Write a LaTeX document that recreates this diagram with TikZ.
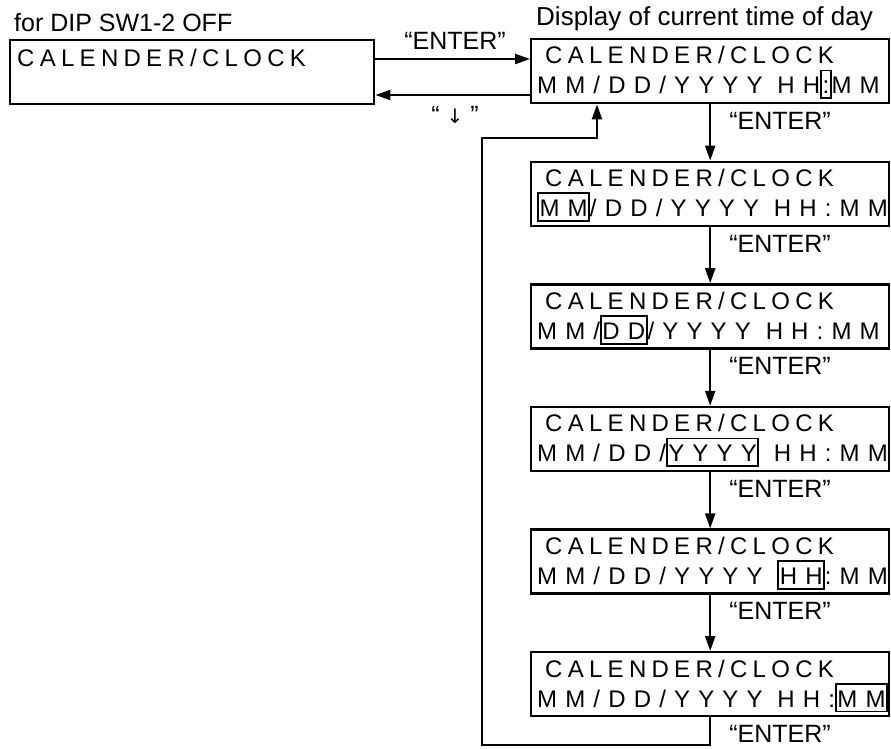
\documentclass[tikz,border=0pt]{standalone}
\usepackage{fontspec}
\setmainfont{Liberation Sans}
\newfontfamily\lcd[LetterSpace=22]{Liberation Sans}
\newfontfamily\lcdb[LetterSpace=34]{Liberation Sans}
\newfontfamily\dv{DejaVu Sans}
\usetikzlibrary{calc,arrows.meta}
\newcommand\hl[1]{{\setlength\fboxsep{0.5pt}\setlength\fboxrule{1.8pt}\fbox{\rule[-3pt]{0pt}{25pt}#1}}}
\begin{document}
\begin{tikzpicture}[x=1pt,y=-1pt,
  disp/.style={draw, line width=2.4pt, minimum width=358pt, minimum height=64pt, anchor=north west, inner sep=0pt},
  lcdtxt/.style={anchor=base west, inner sep=0pt, font=\lcd\fontsize{24}{24}\selectfont},
  lcdtxtb/.style={anchor=base west, inner sep=0pt, font=\lcdb\fontsize{24}{24}\selectfont},
  lbl/.style={inner sep=0pt, font=\fontsize{25}{25}\selectfont},
  conn/.style={line width=2.2pt},
  arr/.style={conn, -{Triangle[length=15pt,width=10pt]}}]
\useasboundingbox (0,0) rectangle (891,749);

% header labels
\node[lbl, anchor=base west] (title) at (14,32) {for DIP SW1-2 OFF};
\node[lbl, anchor=base west, font=\fontsize{26}{26}\selectfont] (dtitle) at (536,26) {Display of current time of day};

% left display
\node[disp, minimum width=364pt] (L) at (9,39) {};
\node[lcdtxt] (Lt) at ($(L.north west)+(8,28)$) {CALENDER/CLOCK};

% right displays
\node[disp] (b1) at (530,38) {};
\node[disp] (b2) at (530,160.6) {};
\node[disp] (b3) at (530,283.2) {};
\node[disp] (b4) at (530,405.8) {};
\node[disp] (b5) at (530,528.4) {};
\node[disp] (b6) at (530,651) {};

\node[lcdtxt] (b1a) at ($(b1.north west)+(15,26)$) {CALENDER/CLOCK};
\node[lcdtxtb] (b1b) at ($(b1.north west)+(7,56)$) {MM/DD/YYYY HH\hl{:}MM};
\node[lcdtxt] (b2a) at ($(b2.north west)+(15,26)$) {CALENDER/CLOCK};
\node[lcdtxtb] (b2b) at ($(b2.north west)+(7,56)$) {\hl{MM}/DD/YYYY HH:MM};
\node[lcdtxt] (b3a) at ($(b3.north west)+(15,26)$) {CALENDER/CLOCK};
\node[lcdtxtb] (b3b) at ($(b3.north west)+(7,56)$) {MM/\hl{DD}/YYYY HH:MM};
\node[lcdtxt] (b4a) at ($(b4.north west)+(15,26)$) {CALENDER/CLOCK};
\node[lcdtxtb] (b4b) at ($(b4.north west)+(7,56)$) {MM/DD/\hl{YYYY} HH:MM};
\node[lcdtxt] (b5a) at ($(b5.north west)+(15,26)$) {CALENDER/CLOCK};
\node[lcdtxtb] (b5b) at ($(b5.north west)+(7,56)$) {MM/DD/YYYY \hl{HH}:MM};
\node[lcdtxt] (b6a) at ($(b6.north west)+(15,26)$) {CALENDER/CLOCK};
\node[lcdtxtb] (b6b) at ($(b6.north west)+(7,56)$) {MM/DD/YYYY HH:\hl{MM}};

% horizontal connectors
\coordinate (ya) at (0,59);
\coordinate (yb) at (0,95);
\draw[arr] (L.east |- ya) -- (b1.west |- ya);
\draw[arr] (b1.west |- yb) -- (L.east |- yb);
\node[lbl, anchor=base] (ent0) at (455,50) {“ENTER”};
\node[lbl, anchor=base] (dn) at (455,124) {“ {\dv\fontsize{20}{20}\selectfont ↓} ”};

% vertical connectors
\draw[arr] (b1.south) -- (b2.north);
\draw[arr] (b2.south) -- (b3.north);
\draw[arr] (b3.south) -- (b4.north);
\draw[arr] (b4.south) -- (b5.north);
\draw[arr] (b5.south) -- (b6.north);
\node[lbl, anchor=base west] (e1) at ($(b1.south)+(19,25)$) {“ENTER”};
\node[lbl, anchor=base west] (e2) at ($(b2.south)+(19,25)$) {“ENTER”};
\node[lbl, anchor=base west] (e3) at ($(b3.south)+(19,25)$) {“ENTER”};
\node[lbl, anchor=base west] (e4) at ($(b4.south)+(19,25)$) {“ENTER”};
\node[lbl, anchor=base west] (e5) at ($(b5.south)+(19,25)$) {“ENTER”};
\node[lbl, anchor=base west] (e6) at ($(b6.south)+(19,25)$) {“ENTER”};

% return loop
\coordinate (rb) at (482,745);
\coordinate (rt) at (597,138);
\draw[arr] (b6.south) |- (rb) |- (rt) -- (rt |- b1.south);
\end{tikzpicture}
\end{document}
